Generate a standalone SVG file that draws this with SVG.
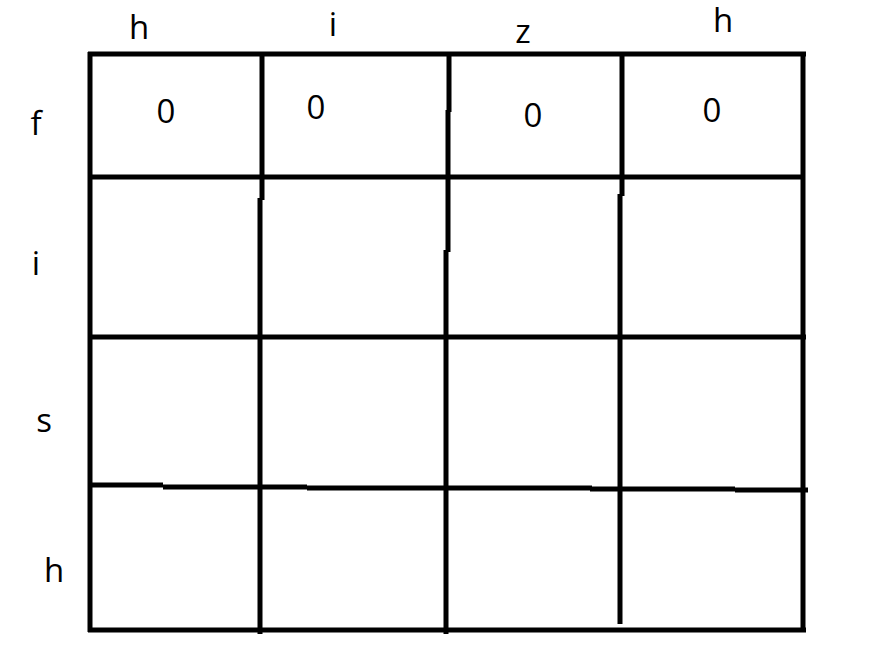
<svg xmlns="http://www.w3.org/2000/svg" width="869" height="667" viewBox="0 0 869 667">
<style>
.ln{fill:none;stroke:#000;stroke-width:5;stroke-linecap:butt}
.t{font-family:"Open Sans","Liberation Sans",sans-serif;font-size:33px;fill:#000;text-anchor:middle}
</style>
<rect width="869" height="667" fill="#fff"/>
<g id="grid-lines">
<path class="ln" d="M88,54 H806"/>
<path class="ln" d="M90,52 V632"/>
<path class="ln" d="M803,52 V632"/>
<path class="ln" d="M88,630 H806"/>
<path class="ln" d="M88,177 H805"/>
<path class="ln" d="M90,337 H806"/>
<path class="ln" d="M88,485 H163 M163,487 H307 M307,488 H592 M590,489 H735 M735,490 H808"/>
<path class="ln" d="M262,52 V200 M260,198 V634"/>
<path class="ln" d="M449,52 V112 M448,110 V252 M446,250 V634"/>
<path class="ln" d="M622,52 V196 M620,194 V624"/>
</g>
<g id="col-headers">
<text class="t" x="139" y="39">h</text>
<text class="t" x="333" y="36">i</text>
<text class="t" x="523" y="43">z</text>
<text class="t" x="723" y="32">h</text>
</g>
<g id="row-headers">
<text class="t" x="36" y="135">f</text>
<text class="t" x="36" y="275">i</text>
<text class="t" x="44" y="432">s</text>
<text class="t" x="54" y="582">h</text>
</g>
<g id="cells">
<text class="t" x="166" y="123">0</text>
<text class="t" x="316" y="119">0</text>
<text class="t" x="533" y="127">0</text>
<text class="t" x="712" y="122">0</text>
</g>
</svg>
